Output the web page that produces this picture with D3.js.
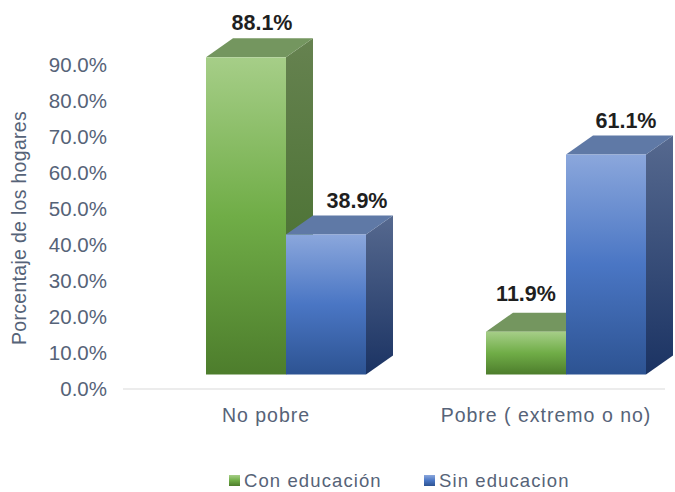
<!DOCTYPE html>
<html>
<head>
<meta charset="utf-8">
<script src="https://cdn.jsdelivr.net/npm/d3@7"></script>
<style>
    html, body { margin: 0; padding: 0; background: #fff; }
    text { font-family: "Liberation Sans", Arial, sans-serif; }
</style>
</head>
<body>
<div id="viz"></div>
<script>
let categories = ["No pobre", "Pobre ( extremo o no)"];
let series = ["Con educación", "Sin educacion"];
let con_educacion = [88.1, 11.9];
let sin_educacion = [38.9, 61.1];
let ticks = [0, 10, 20, 30, 40, 50, 60, 70, 80, 90];
let y_title = "Porcentaje de los hogares";

let width = 675, height = 492;
let depth_x = 27, depth_y = 19; // 3d offset of the back wall
let base_off = 14.5; // front bottom sits above the floor line
let text_color = "#566378";

// gradient stops for each series: front, side, and flat top colour
let colors = {
    "Con educación": {front: ["#a6ce88", "#70ad47", "#4d7d2c"], side: ["#668250", "#3f6b26"], top: "#74965f"},
    "Sin educacion": {front: ["#8ba7dc", "#4a76c4", "#2d5392"], side: ["#56698f", "#1b3363"], top: "#5f79a6"}
};

let svg = d3.select("#viz").append("svg")
    .attr("width", width)
    .attr("height", height)
    .style("display", "block");

let defs = svg.append("defs");

function make_gradient(id, stops) {
    let g = defs.append("linearGradient").attr("id", id)
        .attr("x1", 0).attr("y1", 0).attr("x2", 0).attr("y2", 1);
    stops.forEach((c, i) => {
        g.append("stop").attr("offset", i / (stops.length - 1)).attr("stop-color", c);
    });
}
series.forEach((s, i) => {
    make_gradient("front-" + i, colors[s].front);
    make_gradient("side-" + i, colors[s].side);
});

let y = d3.scaleLinear().domain([0, 90]).range([389, 65]);
let x0 = d3.scaleBand().domain(categories).range([146, 706]);
let x1 = d3.scaleBand().domain(series).range([60, 220]);

// floor line
svg.append("line")
    .attr("x1", 123).attr("x2", 665)
    .attr("y1", y(0)).attr("y2", y(0))
    .attr("stroke", "#e6e6e6")
    .attr("stroke-width", 1.5);

// y axis, only the labels are visible
let y_axis = d3.axisLeft(y)
    .tickValues(ticks)
    .tickSize(0)
    .tickPadding(0)
    .tickFormat(d => d3.format(".1f")(d) + "%");

let y_g = svg.append("g")
    .attr("transform", "translate(107,0)")
    .call(y_axis);
y_g.select(".domain").remove();
y_g.selectAll("text")
    .style("font-family", '"Liberation Sans", Arial, sans-serif')
    .style("font-size", "20.5px")
    .style("fill", text_color);

svg.append("text")
    .attr("transform", "translate(26,228) rotate(-90)")
    .attr("text-anchor", "middle")
    .style("font-size", "19.5px")
    .style("letter-spacing", "0.3px")
    .style("fill", text_color)
    .text(y_title);

// flatten values for drawing, the right hand bars last so they sit on top
let bars = [];
categories.forEach((c, i) => {
    bars.push({cat: c, ser: series[0], idx: 0, value: con_educacion[i]});
    bars.push({cat: c, ser: series[1], idx: 1, value: sin_educacion[i]});
});

let bar_g = svg.selectAll(".bar").data(bars).enter().append("g").attr("class", "bar");

function bar_left(d) { return x0(d.cat) + x1(d.ser); }

bar_g.append("path") // side
    .attr("d", d => {
        let r = bar_left(d) + x1.bandwidth(), t = y(d.value) - base_off, b = y(0) - base_off;
        return `M${r},${t}L${r + depth_x},${t - depth_y}L${r + depth_x},${b - depth_y}L${r},${b}Z`;
    })
    .attr("fill", d => "url(#side-" + d.idx + ")");

bar_g.append("path") // top
    .attr("d", d => {
        let l = bar_left(d), r = l + x1.bandwidth(), t = y(d.value) - base_off;
        return `M${l},${t}L${l + depth_x},${t - depth_y}L${r + depth_x},${t - depth_y}L${r},${t}Z`;
    })
    .attr("fill", d => colors[d.ser].top);

bar_g.append("rect") // front
    .attr("x", d => bar_left(d))
    .attr("y", d => y(d.value) - base_off)
    .attr("width", x1.bandwidth())
    .attr("height", d => y(0) - y(d.value))
    .attr("fill", d => "url(#front-" + d.idx + ")");

// value labels were placed by hand in the original, so each has its own nudge
let nudge_x = [16, 31, 0, 20];
let nudge_y = [27, 26, 31, 27];

svg.selectAll(".value").data(bars).enter().append("text")
    .attr("class", "value")
    .attr("x", (d, i) => bar_left(d) + x1.bandwidth() / 2 + nudge_x[i])
    .attr("y", (d, i) => y(d.value) - base_off - nudge_y[i])
    .attr("text-anchor", "middle")
    .style("font-size", "21.5px")
    .style("font-weight", "bold")
    .style("fill", "#1f1f1f")
    .text(d => d.value.toFixed(1) + "%");

// category labels
svg.selectAll(".cat").data(categories).enter().append("text")
    .attr("class", "cat")
    .attr("x", d => x0(d) + x0.bandwidth() / 2 - 20)
    .attr("y", 422)
    .attr("text-anchor", "middle")
    .style("font-size", "19.5px")
    .style("letter-spacing", "1px")
    .style("fill", text_color)
    .text(d => d);

// legend
let legend_x = [229, 424];
let legend = svg.selectAll(".legend").data(series).enter().append("g")
    .attr("class", "legend")
    .attr("transform", (d, i) => "translate(" + legend_x[i] + ",0)");
legend.append("rect")
    .attr("y", 475).attr("width", 11).attr("height", 11)
    .attr("fill", (d, i) => "url(#front-" + i + ")");
legend.append("text")
    .attr("x", 15).attr("y", 487)
    .style("font-size", "18.5px")
    .style("letter-spacing", "1.1px")
    .style("fill", text_color)
    .text(d => d);
</script>
</body>
</html>
